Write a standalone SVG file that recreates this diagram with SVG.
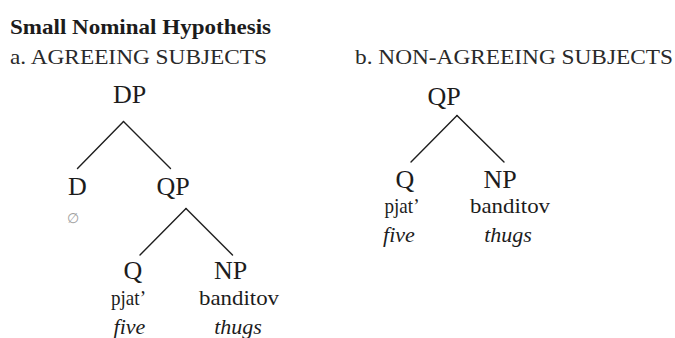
<svg xmlns="http://www.w3.org/2000/svg" width="675" height="338" viewBox="0 0 675 338">
<style>
text { font-family: "Liberation Serif", "Times New Roman", serif; fill: #1c1c1c; }
.title { font-size: 21px; font-weight: bold; }
.head { font-size: 21px; fill: #2a2a2a; }
.cat { font-size: 26px; text-anchor: middle; }
.word { font-size: 22px; text-anchor: middle; }
.gloss { font-size: 22px; font-style: italic; text-anchor: middle; }
.null { font-family: "DejaVu Sans", sans-serif; font-size: 14px; fill: #a0a0a0; text-anchor: middle; }
.edge { stroke: #1e1e1e; stroke-width: 1.4; fill: none; stroke-linecap: round; }
</style>
<rect width="675" height="338" fill="#ffffff"/>
<g id="headings">
<text class="title" x="10" y="34" textLength="261" lengthAdjust="spacingAndGlyphs">Small Nominal Hypothesis</text>
<text class="head" x="10" y="64" textLength="257" lengthAdjust="spacingAndGlyphs">a. AGREEING SUBJECTS</text>
<text class="head" x="355" y="64" textLength="318" lengthAdjust="spacingAndGlyphs">b. NON-AGREEING SUBJECTS</text>
</g>
<g id="connectors">
<line class="edge" x1="123.5" y1="121.5" x2="77.5" y2="168.5"/>
<line class="edge" x1="123.5" y1="121.5" x2="170.5" y2="168.5"/>
<line class="edge" x1="186" y1="208.5" x2="140" y2="255"/>
<line class="edge" x1="186" y1="208.5" x2="232.5" y2="255"/>
<line class="edge" x1="457" y1="115.5" x2="411" y2="162"/>
<line class="edge" x1="457" y1="115.5" x2="504" y2="162"/>
</g>
<g id="a-DP"><text class="cat" x="129.5" y="103">DP</text></g>
<g id="a-D">
<text class="cat" x="77.5" y="195">D</text>
<text class="null" x="73" y="223">∅</text>
</g>
<g id="a-QP"><text class="cat" x="173" y="195">QP</text></g>
<g id="a-Q">
<text class="cat" x="133" y="279">Q</text>
<text class="word" x="128.5" y="305" textLength="35" lengthAdjust="spacingAndGlyphs">pjat’</text>
<text class="gloss" x="129.5" y="334">five</text>
</g>
<g id="a-NP">
<text class="cat" x="230.5" y="279">NP</text>
<text class="word" x="239" y="305" textLength="80" lengthAdjust="spacingAndGlyphs">banditov</text>
<text class="gloss" x="238" y="334">thugs</text>
</g>
<g id="b-QP"><text class="cat" x="444" y="104.5">QP</text></g>
<g id="b-Q">
<text class="cat" x="405" y="188">Q</text>
<text class="word" x="402" y="213" textLength="35" lengthAdjust="spacingAndGlyphs">pjat’</text>
<text class="gloss" x="399" y="241.5">five</text>
</g>
<g id="b-NP">
<text class="cat" x="500" y="188">NP</text>
<text class="word" x="510" y="213" textLength="80" lengthAdjust="spacingAndGlyphs">banditov</text>
<text class="gloss" x="508" y="241.5">thugs</text>
</g>
</svg>
